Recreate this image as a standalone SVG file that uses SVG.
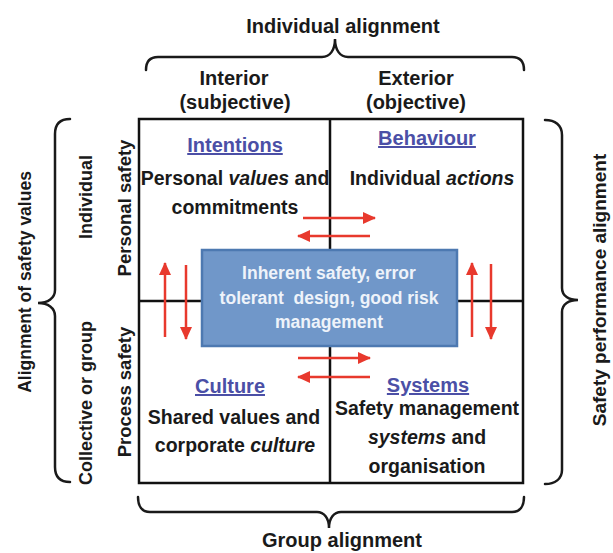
<svg xmlns="http://www.w3.org/2000/svg" width="613" height="553" viewBox="0 0 613 553">
<defs>
<marker id="ah" viewBox="0 0 13 12" markerWidth="13" markerHeight="12" markerUnits="userSpaceOnUse" refX="12" refY="6" orient="auto">
<path d="M0,0 L13,6 L0,12 z" fill="#e8392d"/>
</marker>
<style>
text{font-family:"Liberation Sans",Arial,sans-serif;font-weight:bold;fill:#1a1a1a;text-anchor:middle}
.hd{font-size:20px}
.h{font-size:20px;fill:#4b4fa6;text-decoration:underline}
.b{font-size:19.5px}
.s{font-size:18.5px}
.bx{font-size:17.5px;fill:#eef3fa}
.i{font-style:italic}
.brace{fill:none;stroke:#1a1a1a;stroke-width:2.5;stroke-linecap:round}
.grid{fill:none;stroke:#111;stroke-width:2.5}
.arr{fill:none;stroke:#e8392d;stroke-width:2.5;marker-end:url(#ah)}
</style>
</defs>
<rect width="613" height="553" fill="#ffffff"/>

<g id="top-header">
<text class="hd" x="343" y="33">Individual alignment</text>
<path class="brace" d="M146,70 C146,62 150,57 158,57 L322,57 C330,57 335,50 335,39 C335,50 340,57 348,57 L512,57 C520,57 524,62 524,70"/>
<text class="hd" x="234" y="85">Interior</text>
<text class="hd" x="235" y="109">(subjective)</text>
<text class="hd" x="416" y="85">Exterior</text>
<text class="hd" x="416" y="109">(objective)</text>
</g>

<g id="left-labels">
<path class="brace" d="M70,119 C60,119 55,124 55,134 L55,290 C55,298 48,303 38,303 C48,303 55,308 55,316 L55,467 C55,477 60,482 70,482"/>
<text class="s" style="font-size:17.5px" transform="translate(31,282) rotate(-90)">Alignment of safety values</text>
<text class="s" style="font-size:18px" transform="translate(92,197) rotate(-90)">Individual</text>
<text class="s" style="font-size:18px" transform="translate(92,403) rotate(-90)">Collective or group</text>
<text class="s" transform="translate(131,208) rotate(-90)">Personal safety</text>
<text class="s" transform="translate(131,392) rotate(-90)">Process safety</text>
</g>

<g id="right-labels">
<path class="brace" d="M545,120 C555,120 562,125 562,135 L562,288 C562,296 569,300 578,300 C569,300 562,304 562,312 L562,470 C562,479 555,484 545,484"/>
<text class="s" style="font-size:19px" transform="translate(606,290) rotate(-90)">Safety performance alignment</text>
</g>

<g id="bottom-label">
<path class="brace" d="M138,497 C138,506 142,512 150,512 L317,512 C324,512 329,518 329,528 C329,518 334,512 341,512 L512,512 C520,512 524,506 524,497"/>
<text class="hd" x="342" y="547">Group alignment</text>
</g>

<g id="grid">
<rect class="grid" x="139" y="119" width="384" height="364"/>
<line class="grid" x1="330" y1="119" x2="330" y2="483"/>
<line class="grid" x1="139" y1="301" x2="523" y2="301"/>
</g>

<g id="intentions">
<text class="h" x="235" y="152">Intentions</text>
<text class="b" x="235" y="185">Personal <tspan class="i">values</tspan> and</text>
<text class="b" x="235" y="214">commitments</text>
</g>

<g id="behaviour">
<text class="h" x="427" y="145">Behaviour</text>
<text class="b" x="432" y="185">Individual <tspan class="i">actions</tspan></text>
</g>

<g id="culture">
<text class="h" x="230" y="393">Culture</text>
<text class="b" x="234" y="424">Shared values and</text>
<text class="b" x="235" y="452">corporate <tspan class="i">culture</tspan></text>
</g>

<g id="systems">
<text class="h" x="428" y="392">Systems</text>
<text class="b" x="427" y="415">Safety management</text>
<text class="b" x="427" y="444"><tspan class="i">systems</tspan> and</text>
<text class="b" x="427" y="473">organisation</text>
</g>

<g id="center-box">
<rect x="202" y="250" width="255" height="96" fill="#7097c9" stroke="#4d79b1" stroke-width="2.5"/>
<text class="bx" x="329" y="279">Inherent safety, error</text>
<text class="bx" x="329" y="304" xml:space="preserve">tolerant  design, good risk</text>
<text class="bx" x="329" y="328">management</text>
</g>

<g id="connectors">
<line class="arr" x1="303" y1="218" x2="375" y2="218"/>
<line class="arr" x1="370" y1="236" x2="298" y2="236"/>
<line class="arr" x1="298" y1="358" x2="370" y2="358"/>
<line class="arr" x1="370" y1="377" x2="298" y2="377"/>
<line class="arr" x1="165" y1="337" x2="165" y2="263"/>
<line class="arr" x1="186" y1="265" x2="186" y2="339"/>
<line class="arr" x1="472" y1="337" x2="472" y2="263"/>
<line class="arr" x1="491" y1="264" x2="491" y2="339"/>
</g>
</svg>
